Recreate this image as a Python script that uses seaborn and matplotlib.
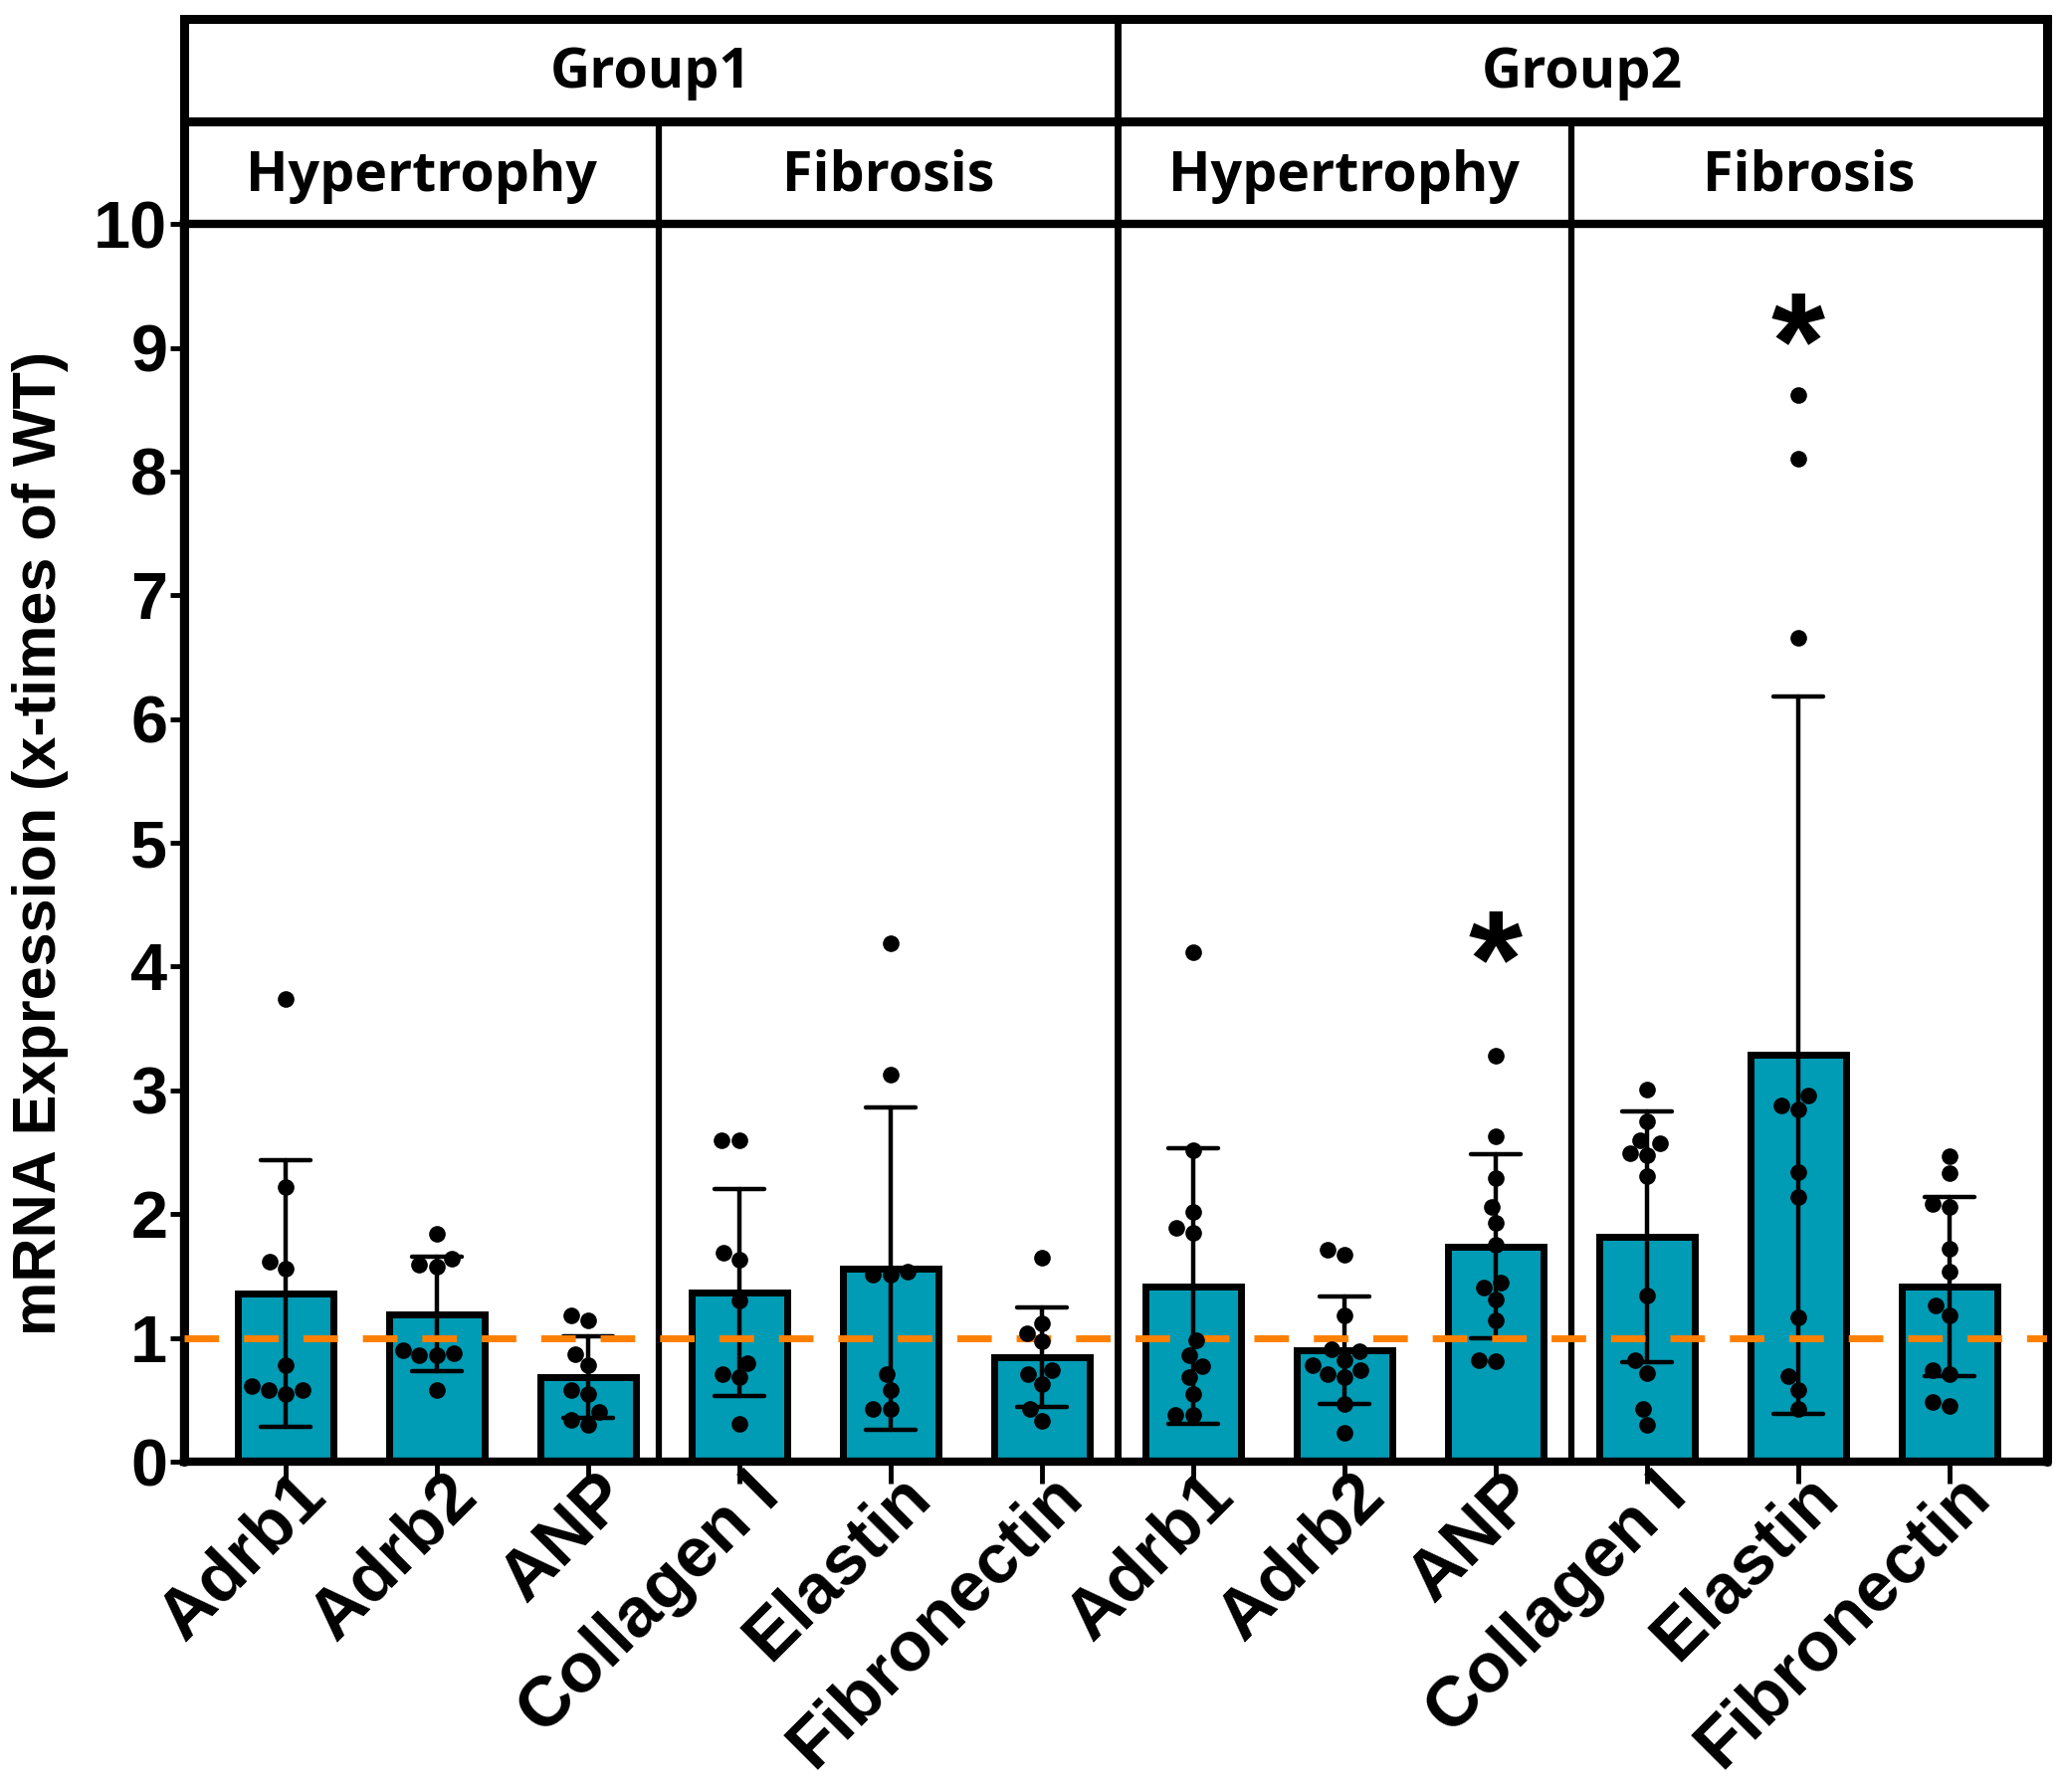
import numpy as np
import pandas as pd
import seaborn as sns
import matplotlib.pyplot as plt
import matplotlib.transforms as mtransforms

# ---------------- data ----------------
genes = ["Adrb1", "Adrb2", "ANP", "Collagen I", "Elastin", "Fibronectin"]
groups = ["Group1", "Group2"]
subgroups = ["Hypertrophy", "Fibrosis"]

g1_adrb1 = [3.74, 2.22, 1.62, 1.56, 0.78, 0.55, 0.61, 0.58, 0.58]
g1_adrb2 = [1.84, 1.59, 1.58, 1.64, 0.90, 0.86, 0.86, 0.88, 0.58]
g1_anp = [1.14, 1.18, 0.87, 0.78, 0.58, 0.55, 0.40, 0.30, 0.34]
g1_col = [2.60, 2.60, 1.63, 1.69, 1.30, 0.80, 0.71, 0.68, 0.31]
g1_ela = [4.19, 3.13, 1.51, 1.54, 1.51, 0.71, 0.58, 0.43, 0.43]
g1_fib = [1.65, 1.12, 1.04, 0.97, 0.74, 0.71, 0.63, 0.43, 0.33]

g2_adrb1 = [4.12, 2.52, 2.02, 1.89, 1.85, 0.98, 0.86, 0.77, 0.68, 0.55, 0.38, 0.38]
g2_adrb2 = [1.71, 1.67, 1.18, 0.89, 0.91, 0.82, 0.71, 0.68, 0.74, 0.78, 0.23, 0.47]
g2_anp = [3.28, 2.63, 2.29, 2.06, 1.93, 1.75, 1.41, 1.45, 1.31, 1.14, 0.81, 0.82]
g2_col = [3.01, 2.75, 2.60, 2.49, 2.48, 2.57, 2.31, 1.34, 0.82, 0.72, 0.43, 0.30]
g2_ela = [8.62, 8.10, 6.66, 2.96, 2.85, 2.88, 2.34, 2.14, 1.17, 0.69, 0.58, 0.43]
g2_fib = [2.47, 2.33, 2.06, 2.08, 1.72, 1.54, 1.26, 1.18, 0.71, 0.74, 0.45, 0.48]

series = [g1_adrb1, g1_adrb2, g1_anp, g1_col, g1_ela, g1_fib,
          g2_adrb1, g2_adrb2, g2_anp, g2_col, g2_ela, g2_fib]

# significance marks: slot index -> y of the asterisk
stars = {8: 3.97, 10: 8.96}

wt_level = 1.0

slots = [f"{g} {n}" for g in groups for n in genes]
df = pd.DataFrame({
    "slot": np.repeat(slots, [len(s) for s in series]),
    "value": np.concatenate(series),
})

# ---------------- style ----------------
sns.set_style("ticks")
plt.rcParams["font.family"] = ["Liberation Sans", "DejaVu Sans"]
plt.rcParams["font.weight"] = "bold"
for k in ("text.color", "axes.labelcolor", "xtick.color", "ytick.color",
          "axes.edgecolor"):
    plt.rcParams[k] = "black"

BAR = "#009bb4"
ORANGE = "#ff8000"

fig = plt.figure(figsize=(20.71, 18.01), dpi=100)
ax = fig.add_axes([0.0893, 0.1843, 0.904, 0.6907])

sns.barplot(data=df, x="slot", y="value", order=slots, errorbar="sd",
            capsize=0.33, width=0.63, color=BAR, saturation=1,
            edgecolor="black", linewidth=5,
            err_kws={"color": "black", "linewidth": 3.2}, ax=ax)
ax.axhline(wt_level, color=ORANGE, lw=5, linestyle=(0, (5, 3.6)), zorder=3.5)
sns.swarmplot(data=df, x="slot", y="value", order=slots, color="black",
              size=12, zorder=4, ax=ax)

ax.set_xlim(-0.67, 11.645)
ax.set_ylim(0, 10)
ax.set_yticks(range(0, 11))
ax.tick_params(axis="y", labelsize=48, length=10, width=3.5, pad=2)
ax.tick_params(axis="x", labelsize=51, length=16, width=3.5, pad=10)
ax.set_xticks(range(len(slots)))
ax.set_xticklabels(genes * 2, rotation=45, ha="right", va="center",
                   rotation_mode="anchor")
shift = mtransforms.ScaledTranslation(0.30, 0.12, fig.dpi_scale_trans)
for lbl in ax.get_xticklabels():
    lbl.set_transform(lbl.get_transform() + shift)
ax.set_xlabel("")
ax.set_ylabel("mRNA Expression (x-times of WT)", fontsize=44,
              fontweight="bold", labelpad=18)
for sp in ax.spines.values():
    sp.set_linewidth(6)

for i, y in stars.items():
    ax.text(i, y, "*", fontsize=100, fontweight="bold", ha="center",
            va="center")

# ---------------- header table & section separators ----------------
tr = ax.get_xaxis_transform()
x0, x1 = ax.get_xlim()
top, mid = 1.166, 1.083
lw = 6.5
ax.plot([x0, x1], [top, top], color="black", lw=lw, transform=tr, clip_on=False, solid_capstyle="projecting")
ax.plot([x0, x1], [mid, mid], color="black", lw=lw, transform=tr, clip_on=False)
ax.plot([x0, x0], [0, top], color="black", lw=lw, transform=tr, clip_on=False)
ax.plot([x1, x1], [0, top], color="black", lw=lw, transform=tr, clip_on=False)
ax.plot([5.5, 5.5], [0, top], color="black", lw=5, transform=tr, clip_on=False)
for xs in (2.47, 8.5):
    ax.plot([xs, xs], [0, mid], color="black", lw=4.5, transform=tr, clip_on=False)

hdr = dict(fontsize=40, fontweight="bold", family=["Open Sans", "DejaVu Sans"],
           ha="center", va="center", transform=tr)
row1 = (top + mid) / 2 - 0.003
row2 = (mid + 1) / 2 - 0.003
ax.text((x0 + 5.5) / 2, row1, groups[0], **hdr)
ax.text((5.5 + x1) / 2, row1, groups[1], **hdr)
for (a, b), name in zip([(x0, 2.47), (2.47, 5.5), (5.5, 8.5), (8.5, x1)],
                        subgroups * 2):
    ax.text((a + b) / 2, row2, name, **hdr)

fig.savefig("out.png", dpi=100)
